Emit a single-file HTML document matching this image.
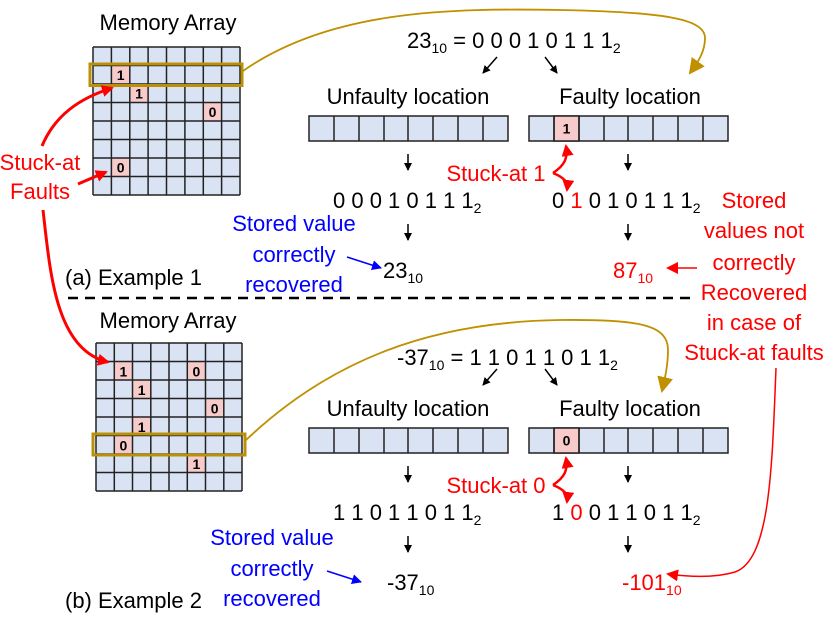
<!DOCTYPE html>
<html><head><meta charset="utf-8"><style>
html,body{margin:0;padding:0;background:#fff;}
svg{display:block;font-family:"Liberation Sans",sans-serif;}
</style></head><body>
<svg width="830" height="620" viewBox="0 0 830 620" xmlns="http://www.w3.org/2000/svg">
<defs>
<marker id="ab" markerWidth="8" markerHeight="8" refX="7" refY="4" orient="auto" markerUnits="userSpaceOnUse"><path d="M0,0 L8,4 L0,8 z" fill="#000"/></marker>
<marker id="ar" markerWidth="12" markerHeight="12" refX="10" refY="6" orient="auto" markerUnits="userSpaceOnUse"><path d="M0,0 L12,6 L0,12 z" fill="#f00"/></marker>
<marker id="abl" markerWidth="10" markerHeight="10" refX="9" refY="5" orient="auto" markerUnits="userSpaceOnUse"><path d="M0,0 L10,5 L0,10 z" fill="#00f"/></marker>
<marker id="ag" markerWidth="16" markerHeight="16" refX="14" refY="8" orient="auto" markerUnits="userSpaceOnUse"><path d="M0,0 L16,8 L0,16 z" fill="#c09000"/></marker>
</defs>

<!-- TOP GRID -->
<rect x="93" y="47" width="147" height="148" fill="#dae3f3"/>
<g fill="#f8cbcb"><rect x="111.4" y="65.5" width="18.4" height="18.5"/><rect x="129.8" y="84" width="18.4" height="18.5"/><rect x="203.3" y="102.5" width="18.4" height="18.5"/><rect x="111.4" y="158" width="18.4" height="18.5"/></g>
<path d="M93,47h147M93,65.5h147M93,84h147M93,102.5h147M93,121h147M93,139.5h147M93,158h147M93,176.5h147M93,195h147M93,47v148M111.4,47v148M129.8,47v148M148.1,47v148M166.5,47v148M184.9,47v148M203.3,47v148M221.6,47v148M240,47v148" stroke="#222" stroke-width="1.5" fill="none"/>
<rect x="90" y="64" width="152" height="21.5" fill="none" stroke="#b8900a" stroke-width="3"/>
<g font-weight="bold" font-size="14" text-anchor="middle"><text x="120.6" y="80">1</text><text x="139" y="98.5">1</text><text x="212.5" y="117">0</text><text x="120.6" y="172.5">0</text></g>
<text x="168" y="30" font-size="22" text-anchor="middle">Memory Array</text>

<!-- BOTTOM GRID -->
<rect x="96" y="343" width="146" height="148" fill="#dae3f3"/>
<g fill="#f8cbcb"><rect x="114.3" y="361.5" width="18.3" height="18.5"/><rect x="187.3" y="361.5" width="18.3" height="18.5"/><rect x="132.5" y="380" width="18.3" height="18.5"/><rect x="205.6" y="398.5" width="18.3" height="18.5"/><rect x="132.5" y="417" width="18.3" height="18.5"/><rect x="114.3" y="435.5" width="18.3" height="18.5"/><rect x="187.3" y="454" width="18.3" height="18.5"/></g>
<path d="M96,343h146M96,361.5h146M96,380h146M96,398.5h146M96,417h146M96,435.5h146M96,454h146M96,472.5h146M96,491h146M96,343v148M114.3,343v148M132.5,343v148M150.8,343v148M169,343v148M187.3,343v148M205.5,343v148M223.8,343v148M242,343v148" stroke="#222" stroke-width="1.5" fill="none"/>
<rect x="93" y="434" width="152" height="21" fill="none" stroke="#b8900a" stroke-width="3"/>
<g font-weight="bold" font-size="14" text-anchor="middle"><text x="123.4" y="376.5">1</text><text x="196.4" y="376.5">0</text><text x="141.6" y="395">1</text><text x="214.7" y="413.5">0</text><text x="141.6" y="432">1</text><text x="123.4" y="450.5">0</text><text x="196.4" y="469">1</text></g>
<text x="168" y="328" font-size="22" text-anchor="middle">Memory Array</text>

<!-- Gold curves -->
<path d="M243,71 C330,10 450,8 560,10 C660,12 705,18 705,38 C705,52 698,62 690,73" fill="none" stroke="#c09000" stroke-width="1.8" marker-end="url(#ag)"/>
<path d="M245,441 C330,360 430,322 560,320 C640,319 668,325 668,350 C668,365 665,378 662,391" fill="none" stroke="#c09000" stroke-width="1.8" marker-end="url(#ag)"/>

<!-- Stuck-at Faults left -->
<text x="40" y="170" font-size="22" fill="#f00" text-anchor="middle">Stuck-at</text>
<text x="40" y="199" font-size="22" fill="#f00" text-anchor="middle">Faults</text>
<path d="M42,146 C55,115 80,98 112,88" fill="none" stroke="#f00" stroke-width="3" marker-end="url(#ar)"/>
<path d="M78,184 L106,172" fill="none" stroke="#f00" stroke-width="3" marker-end="url(#ar)"/>
<path d="M43,210 C50,270 55,350 108,362" fill="none" stroke="#f00" stroke-width="3" marker-end="url(#ar)"/>

<!-- TOP right section -->
<g font-size="22">
<text x="407" y="48">23<tspan font-size="14" dy="5">10</tspan><tspan dy="-5"> = 0 0 0 1 0 1 1 1</tspan><tspan font-size="14" dy="5">2</tspan></text>
<text x="408" y="104" text-anchor="middle">Unfaulty location</text>
<text x="630" y="104" text-anchor="middle">Faulty location</text>
</g>
<path d="M497,57 L483,73" stroke="#000" stroke-width="1.5" marker-end="url(#ab)"/>
<path d="M545,57 L557,73" stroke="#000" stroke-width="1.5" marker-end="url(#ab)"/>

<g stroke="#222" stroke-width="1.5">
<rect x="309" y="116" width="199" height="25" fill="#dae3f3"/>
<rect x="529" y="116" width="199" height="25" fill="#dae3f3"/>
<rect x="554" y="116" width="25" height="25" fill="#f8cbcb"/>
<path d="M334,116v25M359,116v25M384,116v25M408,116v25M433,116v25M458,116v25M483,116v25M554,116v25M579,116v25M604,116v25M628,116v25M653,116v25M678,116v25M703,116v25"/>
<rect x="309" y="428" width="199" height="25" fill="#dae3f3"/>
<rect x="529" y="428" width="199" height="25" fill="#dae3f3"/>
<rect x="554" y="428" width="25" height="25" fill="#f8cbcb"/>
<path d="M334,428v25M359,428v25M384,428v25M408,428v25M433,428v25M458,428v25M483,428v25M554,428v25M579,428v25M604,428v25M628,428v25M653,428v25M678,428v25M703,428v25"/>
</g>
<text x="566.5" y="133.5" font-size="14" font-weight="bold" text-anchor="middle">1</text>
<text x="566.5" y="445.5" font-size="14" font-weight="bold" text-anchor="middle">0</text>

<g stroke="#000" stroke-width="1.5">
<path d="M408,154v16" marker-end="url(#ab)"/><path d="M628,154v16" marker-end="url(#ab)"/>
<path d="M408,224v16" marker-end="url(#ab)"/><path d="M628,224v16" marker-end="url(#ab)"/>
<path d="M408,466v16" marker-end="url(#ab)"/><path d="M628,466v16" marker-end="url(#ab)"/>
<path d="M408,536v16" marker-end="url(#ab)"/><path d="M628,536v16" marker-end="url(#ab)"/>
</g>

<text x="496" y="181" font-size="22" fill="#f00" text-anchor="middle">Stuck-at 1</text>
<path d="M553,173 C565,165 568,158 566,146" fill="none" stroke="#f00" stroke-width="2.5" marker-end="url(#ar)"/>
<path d="M553,173 C565,178 568,182 567,190" fill="none" stroke="#f00" stroke-width="2.5" marker-end="url(#ar)"/>
<text x="496" y="493" font-size="22" fill="#f00" text-anchor="middle">Stuck-at 0</text>
<path d="M553,485 C565,477 568,470 566,458" fill="none" stroke="#f00" stroke-width="2.5" marker-end="url(#ar)"/>
<path d="M553,485 C565,490 568,494 567,502" fill="none" stroke="#f00" stroke-width="2.5" marker-end="url(#ar)"/>

<g font-size="22">
<text x="333" y="208">0 0 0 1 0 1 1 1<tspan font-size="14" dy="5">2</tspan></text>
<text x="552" y="208">0 <tspan fill="#f00">1</tspan> 0 1 0 1 1 1<tspan font-size="14" dy="5">2</tspan></text>
<text x="383" y="278">23<tspan font-size="14" dy="5">10</tspan></text>
<text x="613" y="278" fill="#f00">87<tspan font-size="14" dy="5">10</tspan></text>
<text x="65" y="285">(a) Example 1</text>
<text x="333" y="520">1 1 0 1 1 0 1 1<tspan font-size="14" dy="5">2</tspan></text>
<text x="552" y="520">1 <tspan fill="#f00">0</tspan> 0 1 1 0 1 1<tspan font-size="14" dy="5">2</tspan></text>
<text x="387" y="590">-37<tspan font-size="14" dy="5">10</tspan></text>
<text x="622" y="590" fill="#f00">-101<tspan font-size="14" dy="5">10</tspan></text>
<text x="65" y="608">(b) Example 2</text>
<text x="397" y="365">-37<tspan font-size="14" dy="5">10</tspan><tspan dy="-5"> = 1 1 0 1 1 0 1 1</tspan><tspan font-size="14" dy="5">2</tspan></text>
<text x="408" y="416" text-anchor="middle">Unfaulty location</text>
<text x="630" y="416" text-anchor="middle">Faulty location</text>
</g>
<path d="M497,369 L483,385" stroke="#000" stroke-width="1.5" marker-end="url(#ab)"/>
<path d="M545,369 L557,385" stroke="#000" stroke-width="1.5" marker-end="url(#ab)"/>

<!-- blue text -->
<g font-size="22" fill="#00f" text-anchor="middle">
<text x="294" y="231">Stored value</text><text x="294" y="262">correctly</text><text x="294" y="292">recovered</text>
<text x="272" y="545">Stored value</text><text x="272" y="576">correctly</text><text x="272" y="606">recovered</text>
</g>
<path d="M347,257 L381,268" stroke="#00f" stroke-width="1.5" marker-end="url(#abl)"/>
<path d="M327,571 L361,582" stroke="#00f" stroke-width="1.5" marker-end="url(#abl)"/>

<!-- dashed -->
<path d="M68,298 H690" stroke="#000" stroke-width="2.5" stroke-dasharray="10,7"/>

<!-- red right text -->
<g font-size="22" fill="#f00" text-anchor="middle">
<text x="754" y="208">Stored</text><text x="754" y="238">values not</text><text x="754" y="270">correctly</text><text x="754" y="300">Recovered</text><text x="754" y="330">in case of</text><text x="754" y="360">Stuck-at faults</text>
</g>
<path d="M697,268 L668,268" stroke="#f00" stroke-width="1.5" marker-end="url(#ar)"/>
<path d="M776,368 C772,470 770,560 735,572 C715,578 690,577 668,574" fill="none" stroke="#f00" stroke-width="1.5" marker-end="url(#ar)"/>
</svg>
</body></html>
